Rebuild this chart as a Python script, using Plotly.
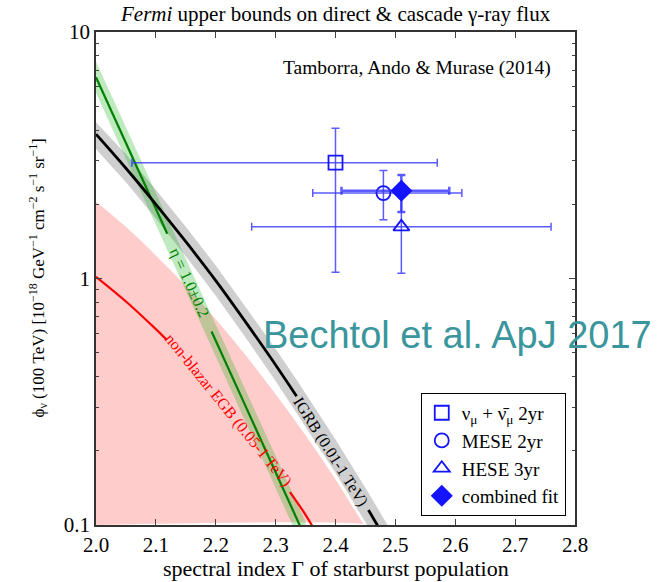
import numpy as np
import plotly.graph_objects as go

SERIF = "Liberation Serif, Times New Roman, serif"

# Axis ranges
X_RANGE = [2.0, 2.8]
Y_LOG_RANGE = [-1, 1]
Y_FLOOR = 10 ** Y_LOG_RANGE[0]

# IGRB (0.01-1 TeV) bound and its band
G_IGRB = [2.00, 2.05, 2.10, 2.15, 2.20, 2.25, 2.30, 2.335, 2.40, 2.455, 2.50]
PHI_IGRB = [3.85, 2.80, 2.00, 1.41, 0.98, 0.665, 0.446, 0.333, 0.190, 0.115, 0.075]
PHI_IGRB_HI = [4.30, 3.19, 2.29, 1.62, 1.13, 0.769, 0.518, 0.388, 0.222, 0.135, 0.0885]
PHI_IGRB_LO = [3.35, 2.46, 1.75, 1.23, 0.851, 0.575, 0.384, 0.286, 0.163, 0.0979, 0.0636]
IGRB_GAP = (7, 9)  # line interrupted between these indices for its label

# eta = 1.0 +/- 0.2 line and band
G_ETA = [2.00, 2.119, 2.193, 2.35]
PHI_ETA = [6.55, 1.52, 0.61, 0.0885]
PHI_ETA_HI = [7.60, 1.76, 0.708, 0.103]
PHI_ETA_LO = [5.65, 1.31, 0.526, 0.0763]
ETA_GAP = (1, 2)

# non-blazar EGB (0.05-1 TeV) line
G_EGB = [2.00, 2.05, 2.10, 2.118, 2.324, 2.35, 2.37]
PHI_EGB = [1.016, 0.807, 0.623, 0.564, 0.136, 0.110, 0.091]
EGB_GAP = (3, 4)

# non-blazar EGB shaded region upper edge
G_PINK = [2.00, 2.05, 2.10, 2.15, 2.20, 2.25, 2.30, 2.35, 2.40, 2.45]
PHI_PINK = [2.05, 1.62, 1.24, 0.933, 0.683, 0.488, 0.339, 0.231, 0.153, 0.099]

# Neutrino measurements: Gamma, phi, and asymmetric errors
MEAS_NAMES = ["ν<sub>μ</sub> + ν̄<sub>μ</sub> 2yr", "MESE 2yr", "HESE 3yr", "combined fit"]
MEAS_G = [2.40, 2.48, 2.51, 2.51]
MEAS_PHI = [2.95, 2.22, 1.62, 2.27]
MEAS_G_MINUS = [0.34, 0.118, 0.25, 0.10]
MEAS_G_PLUS = [0.17, 0.131, 0.25, 0.08]
MEAS_PHI_MINUS = [1.89, 0.49, 0.57, 0.41]
MEAS_PHI_PLUS = [1.12, 0.52, 0.68, 0.36]
MEAS_SYMBOLS = ["square-open", "circle-open", "triangle-up-open", "diamond"]
MEAS_SIZES = [14, 14, 14, 15]
MEAS_ERR_W = [1.5, 1.5, 1.5, 2.5]

Y_TICKS = [0.1, 1, 10]
Y_TICK_TEXT = ["0.1", "1", "10"]
Y_MINOR = [k * 0.1 for k in range(2, 10)] + list(range(2, 10))

BLUE = "rgb(20,20,255)"
ERR_BLUE = "rgba(50,50,255,0.8)"

fig = go.Figure()

# shaded EGB region down to the axis floor
fig.add_trace(go.Scatter(
    x=G_PINK + [G_PINK[-1], G_PINK[0]],
    y=PHI_PINK + [Y_FLOOR, Y_FLOOR],
    mode="lines", line=dict(width=0, shape="spline"),
    fill="toself", fillcolor="rgba(255,0,0,0.2)",
    showlegend=False, hoverinfo="skip"))


def band(g, hi, lo, color):
    fig.add_trace(go.Scatter(
        x=list(g) + list(g)[::-1], y=list(hi) + list(lo)[::-1],
        mode="lines", line=dict(width=0), fill="toself", fillcolor=color,
        showlegend=False, hoverinfo="skip"))


def gapped_line(g, phi, gap, color, width):
    for xs, ys in ((g[:gap[0] + 1], phi[:gap[0] + 1]), (g[gap[1]:], phi[gap[1]:])):
        fig.add_trace(go.Scatter(
            x=xs, y=ys, mode="lines",
            line=dict(color=color, width=width, shape="spline"),
            showlegend=False, hoverinfo="skip"))


band(G_IGRB, PHI_IGRB_HI, PHI_IGRB_LO, "rgba(140,140,140,0.42)")
band(G_ETA, PHI_ETA_HI, PHI_ETA_LO, "rgba(0,170,0,0.25)")

gapped_line(G_EGB, PHI_EGB, EGB_GAP, "rgb(255,0,0)", 2.2)
gapped_line(G_ETA, PHI_ETA, ETA_GAP, "rgb(0,128,0)", 2.2)
gapped_line(G_IGRB, PHI_IGRB, IGRB_GAP, "black", 2.8)

for i, name in enumerate(MEAS_NAMES):
    fig.add_trace(go.Scatter(
        x=[MEAS_G[i]], y=[MEAS_PHI[i]], mode="markers", name=name,
        legendgroup=name,
        marker=dict(symbol=MEAS_SYMBOLS[i], size=MEAS_SIZES[i], color=BLUE,
                    line=dict(color=BLUE, width=1.8)),
        error_x=dict(type="data", symmetric=False, array=[MEAS_G_PLUS[i]],
                     arrayminus=[MEAS_G_MINUS[i]], color=ERR_BLUE,
                     thickness=MEAS_ERR_W[i], width=4),
        error_y=dict(type="data", symmetric=False, array=[MEAS_PHI_PLUS[i]],
                     arrayminus=[MEAS_PHI_MINUS[i]], color=ERR_BLUE,
                     thickness=MEAS_ERR_W[i], width=4),
    ))

annotations = [
    dict(text="<i>Fermi</i> upper bounds on direct &amp; cascade γ-ray flux",
         xref="paper", yref="paper", x=0.5, y=1.0365, xanchor="center",
         yanchor="middle", showarrow=False,
         font=dict(family=SERIF, size=21, color="black")),
    dict(text="Tamborra, Ando &amp; Murase (2014)", xref="paper", yref="paper",
         x=0.954, y=0.927, xanchor="right", yanchor="middle", showarrow=False,
         font=dict(family=SERIF, size=19.5, color="black")),
    dict(text="ϕ<sub>ν</sub> (100 TeV) [10<sup>−18</sup> GeV<sup>−1</sup> cm<sup>−2</sup> s<sup>−1</sup> sr<sup>−1</sup>]",
         xref="paper", yref="paper", x=-0.121, y=0.5, textangle=-90,
         xanchor="center", yanchor="middle", showarrow=False,
         font=dict(family=SERIF, size=17, color="black")),
    dict(text="spectral index Γ of starburst population", xref="paper",
         yref="paper", x=0.5, y=-0.089, xanchor="center", yanchor="middle",
         showarrow=False, font=dict(family=SERIF, size=22, color="black")),
    dict(text="η = 1.0±0.2", x=2.156, y=np.log10(0.96), textangle=65.5,
         showarrow=False, xanchor="center", yanchor="middle",
         font=dict(family=SERIF, size=16, color="rgb(0,128,0)")),
    dict(text="non-blazar EGB (0.05-1 TeV)", x=2.221, y=np.log10(0.294),
         textangle=51, showarrow=False, xanchor="center", yanchor="middle",
         font=dict(family=SERIF, size=16, color="rgb(255,0,0)")),
    dict(text="IGRB (0.01-1 TeV)", x=2.392, y=np.log10(0.198), textangle=57.7,
         showarrow=False, xanchor="center", yanchor="middle",
         font=dict(family=SERIF, size=16, color="black")),
    dict(text="Bechtol et al. ApJ 2017", xref="paper", yref="paper",
         x=0.755, y=0.385, xanchor="center", yanchor="middle", showarrow=False,
         font=dict(family="Liberation Sans, Arial, sans-serif", size=38,
                   color="rgb(58,150,156)")),
]

fig.update_layout(
    width=664, height=582, autosize=False,
    margin=dict(l=96, r=89, t=32, b=57),
    paper_bgcolor="white", plot_bgcolor="white",
    annotations=annotations,
    legend=dict(x=0.678, y=0.268, xanchor="left", yanchor="top",
                bgcolor="white", bordercolor="black", borderwidth=1,
                font=dict(family=SERIF, size=19, color="black"),
                tracegroupgap=0),
    font=dict(family=SERIF, color="black"),
)

fig.update_xaxes(
    range=X_RANGE, dtick=0.1, tick0=2.0, tickformat=".1f",
    ticks="inside", ticklen=6, tickcolor="#444", showgrid=False, zeroline=False,
    showline=True, linecolor="#333", linewidth=1.5, mirror="ticks",
    tickfont=dict(family=SERIF, size=21, color="black"))

fig.update_yaxes(
    type="log", range=Y_LOG_RANGE, tickvals=Y_TICKS, ticktext=Y_TICK_TEXT,
    ticks="inside", ticklen=6, tickcolor="#444", showgrid=False, zeroline=False,
    showline=True, linecolor="#333", linewidth=1.5, mirror="ticks",
    minor=dict(tickvals=Y_MINOR, ticks="inside", ticklen=3, tickcolor="#444",
               showgrid=False),
    tickfont=dict(family=SERIF, size=21, color="black"))

fig.write_html("out.html")
